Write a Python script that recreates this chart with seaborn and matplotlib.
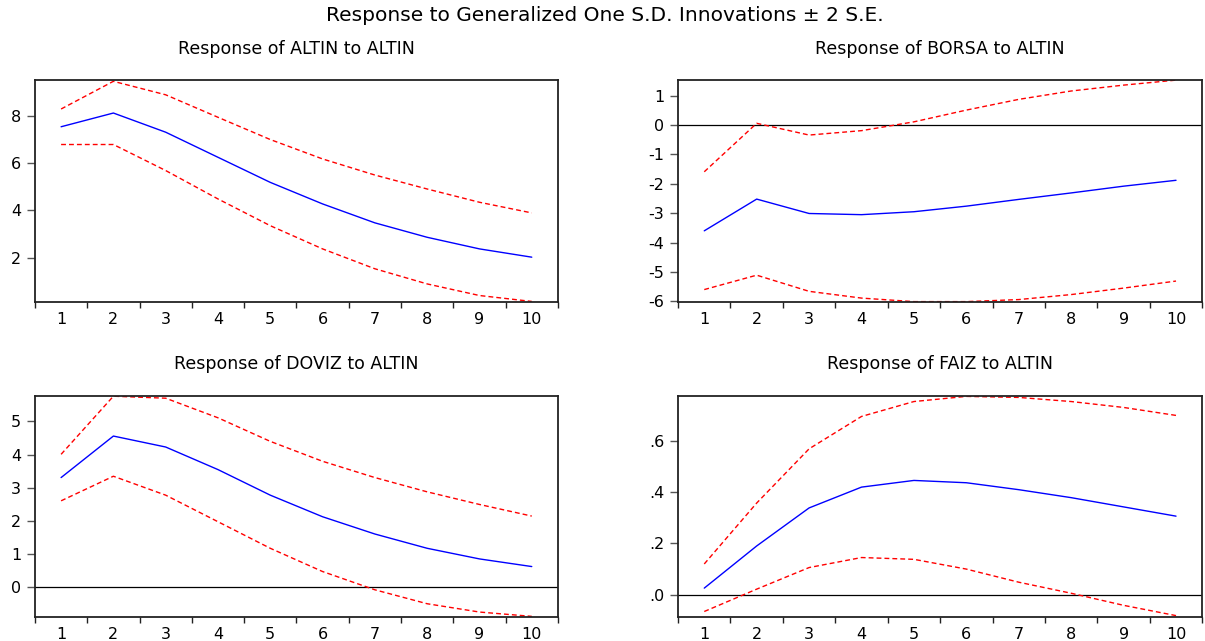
import pandas as pd
import numpy as np
import matplotlib.pyplot as plt
import seaborn as sns
from matplotlib.ticker import FixedLocator, FuncFormatter

sns.set_style('white')
plt.rcParams['font.family'] = ['DejaVu Sans']
plt.rcParams['axes.unicode_minus'] = False
plt.rcParams['text.color'] = 'black'
plt.rcParams['xtick.labelcolor'] = 'black'
plt.rcParams['ytick.labelcolor'] = 'black'

steps = list(range(1, 11))

# Response of ALTIN to ALTIN
altin_resp = [7.53, 8.11, 7.30, 6.24, 5.18, 4.27, 3.47, 2.86, 2.37, 2.02]
altin_up = [8.28, 9.45, 8.88, 7.93, 6.99, 6.17, 5.49, 4.90, 4.34, 3.89]
altin_lo = [6.78, 6.78, 5.68, 4.48, 3.35, 2.37, 1.53, 0.89, 0.40, 0.15]

# Response of BORSA to ALTIN
borsa_resp = [-3.60, -2.52, -3.01, -3.05, -2.95, -2.76, -2.53, -2.31, -2.08, -1.88]
borsa_up = [-1.59, 0.06, -0.34, -0.19, 0.11, 0.51, 0.875, 1.16, 1.36, 1.53]
borsa_lo = [-5.60, -5.11, -5.66, -5.89, -6.01, -6.01, -5.94, -5.77, -5.55, -5.31]

# Response of DOVIZ to ALTIN
doviz_resp = [3.31, 4.56, 4.23, 3.55, 2.78, 2.13, 1.61, 1.18, 0.86, 0.63]
doviz_up = [4.01, 5.76, 5.70, 5.11, 4.40, 3.80, 3.31, 2.88, 2.50, 2.15]
doviz_lo = [2.61, 3.35, 2.78, 1.98, 1.18, 0.48, -0.07, -0.49, -0.74, -0.87]

# Response of FAIZ to ALTIN
faiz_resp = [0.026, 0.19, 0.338, 0.419, 0.445, 0.436, 0.409, 0.378, 0.342, 0.306]
faiz_up = [0.12, 0.357, 0.568, 0.694, 0.752, 0.772, 0.768, 0.752, 0.729, 0.698]
faiz_lo = [-0.065, 0.022, 0.106, 0.145, 0.138, 0.10, 0.049, 0.006, -0.041, -0.081]

panels = [
    ('Response of ALTIN to ALTIN', altin_resp, altin_up, altin_lo,
     (0.13, 9.5), [2, 4, 6, 8], False, [0.029, 0.529, 0.434, 0.346]),
    ('Response of BORSA to ALTIN', borsa_resp, borsa_up, borsa_lo,
     (-6.02, 1.53), [-6, -5, -4, -3, -2, -1, 0, 1], True, [0.5627, 0.529, 0.435, 0.346]),
    ('Response of DOVIZ to ALTIN', doviz_resp, doviz_up, doviz_lo,
     (-0.89, 5.77), [0, 1, 2, 3, 4, 5], True, [0.029, 0.0374, 0.434, 0.345]),
    ('Response of FAIZ to ALTIN', faiz_resp, faiz_up, faiz_lo,
     (-0.0865, 0.774), [0.0, 0.2, 0.4, 0.6], True, [0.5627, 0.0374, 0.435, 0.345]),
]


def dot_fmt(v, pos):
    # EViews style: .6 instead of 0.6
    s = f'{v:.1f}'
    return s[1:] if s.startswith('0') else s


fig = plt.figure(figsize=(12.05, 6.41), dpi=100)
fig.text(0.502, 0.976, 'Response to Generalized One S.D. Innovations \u00b1 2 S.E.',
         ha='center', va='center', fontsize=14.5, color='black')

for i, (title, resp, up, lo, ylim, yticks, zero, pos) in enumerate(panels):
    ax = fig.add_axes(pos)
    df = pd.DataFrame({'step': steps, 'resp': resp, 'up': up, 'lo': lo})
    if zero:
        ax.axhline(0, color='black', linewidth=0.9, zorder=1)
    sns.lineplot(data=df, x='step', y='resp', ax=ax, color='#0000ff', linewidth=1.0)
    sns.lineplot(data=df, x='step', y='up', ax=ax, color='#ff0000', linewidth=1.0,
                 linestyle=(0, (3.5, 2.2)))
    sns.lineplot(data=df, x='step', y='lo', ax=ax, color='#ff0000', linewidth=1.0,
                 linestyle=(0, (3.5, 2.2)))
    ax.set_xlim(0.5, 10.5)
    ax.set_ylim(*ylim)
    ax.set_xlabel('')
    ax.set_ylabel('')
    ax.set_title(title, fontsize=12.5, pad=19, color='black')

    ax.xaxis.set_major_locator(FixedLocator(steps))
    ax.xaxis.set_minor_locator(FixedLocator(np.arange(0.5, 11, 1.0)))
    ax.tick_params(axis='x', which='major', length=0, pad=7, labelsize=11.5)
    ax.tick_params(axis='x', which='minor', length=4, width=1, color='#222222',
                   direction='out', bottom=True)
    ax.set_yticks(yticks)
    if i == 3:
        ax.yaxis.set_major_formatter(FuncFormatter(dot_fmt))
    ax.tick_params(axis='y', which='major', length=6, width=1, color='#555555',
                   direction='out', left=True, pad=4, labelsize=11.5)
    for sp in ax.spines.values():
        sp.set_color('#222222')
        sp.set_linewidth(1.3)

fig.savefig('out.png', dpi=100)
